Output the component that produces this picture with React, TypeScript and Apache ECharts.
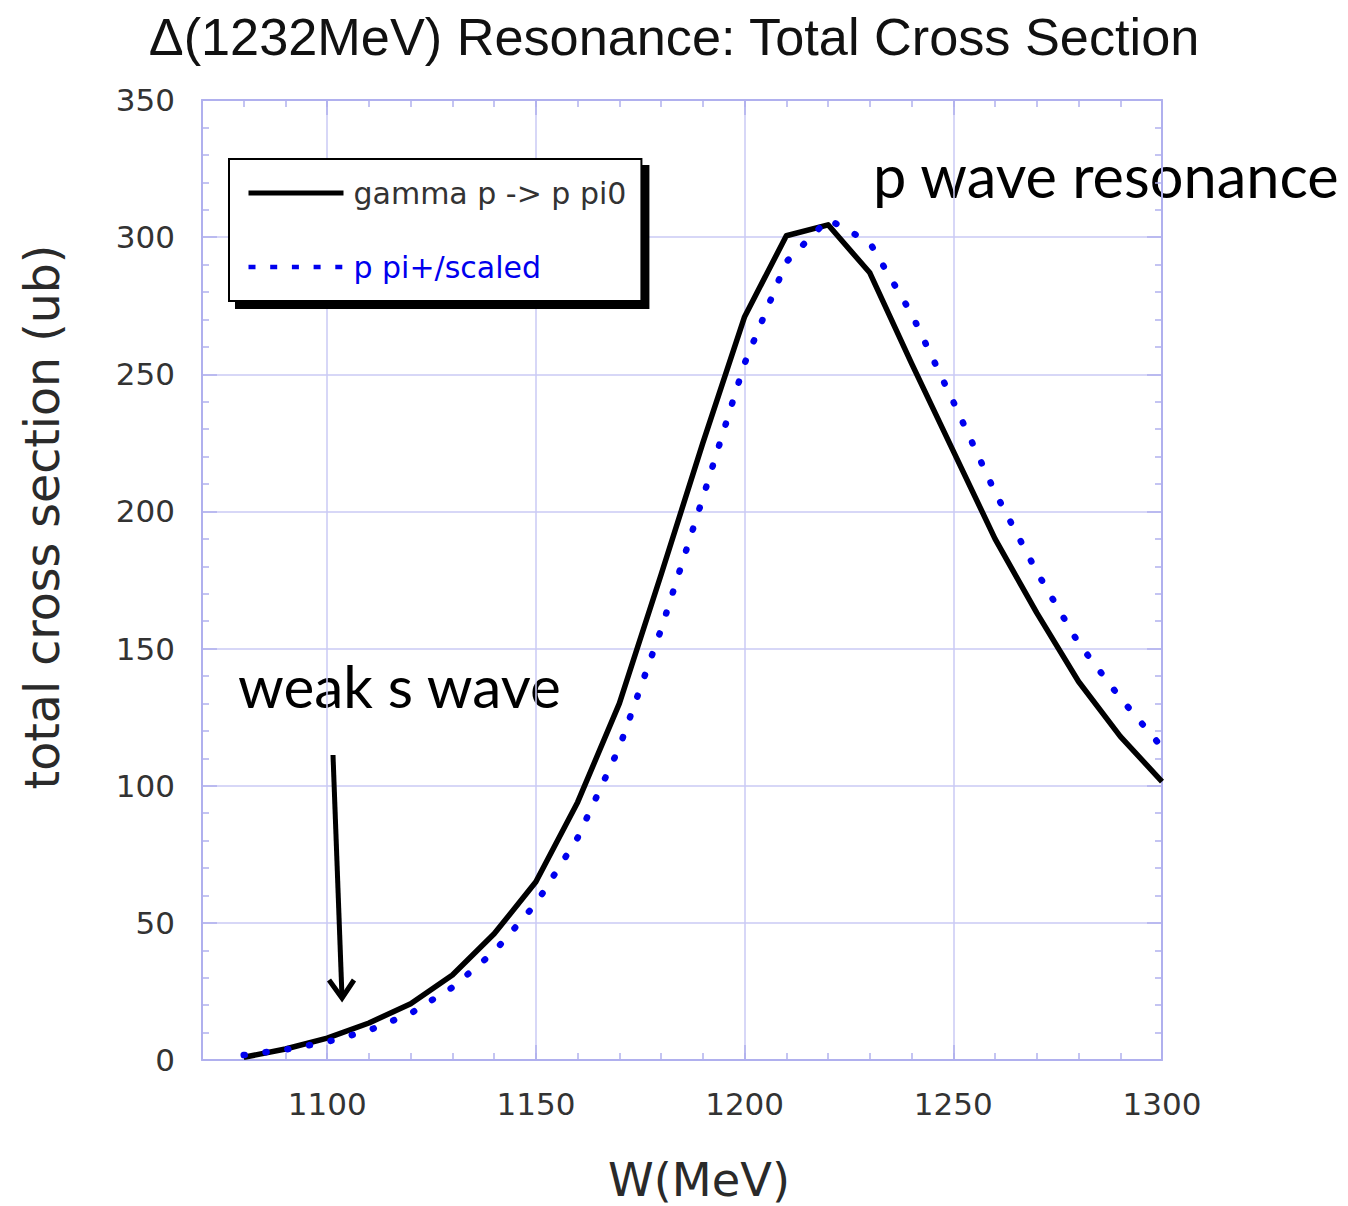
import React, { useEffect, useRef } from 'react';
import * as echarts from 'echarts';

// ---- data ----
const W_MEV = [1080, 1090, 1100, 1110, 1120, 1130, 1140, 1150, 1160, 1170, 1180, 1190, 1200, 1210, 1220, 1230, 1240, 1250, 1260, 1270, 1280, 1290, 1300];
const GAMMA_P_PI0 = [1, 4, 8, 13.5, 20.5, 31, 46, 65, 94, 130, 177, 225, 271, 300.5, 304.5, 287, 254, 222, 190, 163, 138, 118, 101.5];
const P_PIPLUS_SCALED = [1.8, 3.8, 6.6, 10.8, 17, 26.5, 39.5, 57, 81, 114, 157, 205, 254, 291, 306.5, 298, 272, 240, 207, 178, 152, 132, 114];
const X_LABEL_VALUES = [1100, 1150, 1200, 1250, 1300];
const X_MAJOR_TICKS = [1100, 1150, 1200, 1250];
const SERIES_NAMES = ['gamma p -> p pi0', 'p pi+/scaled'];
const TITLE = 'Δ(1232MeV) Resonance: Total Cross Section';
const X_NAME = 'W(MeV)';
const Y_NAME = 'total cross section (ub)';
const NOTE_P = 'p wave resonance';
const NOTE_S = 'weak s wave';

const AXIS_COLOR = '#b0b0ee';
const GRID_COLOR = '#cacaf5';
const LABEL_COLOR = '#333333';
const BLUE = '#0000ee';
const TICK_FONT = 'DejaVu Sans';

function measure(text: string, font: string): number {
  const c = document.createElement('canvas').getContext('2d');
  if (!c) return 100;
  c.font = font;
  return c.measureText(text).width;
}

function fitSize(text: string, family: string, target: number): number {
  const w = measure(text, `40px "${family}"`);
  return (40 * target) / w;
}

export default function App() {
  const ref = useRef<HTMLDivElement>(null);

  useEffect(() => {
    if (!ref.current) return;
    const chart = echarts.init(ref.current, undefined, { renderer: 'svg' });

    const titleSize = 52;
    const titleW = measure(TITLE, `${titleSize}px "Liberation Sans"`);
    const titleScale = 1052 / titleW;
    const yNameSize = fitSize(Y_NAME, 'DejaVu Sans', 545);
    const xNameSize = fitSize(X_NAME, 'DejaVu Sans', 182);
    const notePSize = fitSize(NOTE_P, 'Lato', 467);
    const noteSSize = fitSize(NOTE_S, 'Lato', 324);

    const splitColors = ['rgba(0,0,0,0)', 'rgba(0,0,0,0)', 'rgba(0,0,0,0)', GRID_COLOR, 'rgba(0,0,0,0)'];

    const baseX = {
      type: 'value' as const,
      min: 1070,
      max: 1300,
      gridIndex: 0,
    };
    const baseY = {
      type: 'value' as const,
      min: 0,
      max: 350,
      interval: 50,
      gridIndex: 0,
    };

    const option: any = {
      animation: false,
      backgroundColor: '#ffffff',
      grid: { left: 202, top: 100, width: 960, height: 960, containLabel: false, outerBoundsMode: 'none' },
      legend: {
        show: true,
        orient: 'vertical',
        left: 229,
        top: 159,
        padding: [16, 15, 16, 17],
        itemWidth: 95,
        itemHeight: 36,
        itemGap: 38,
        selectedMode: false,
        backgroundColor: '#ffffff',
        borderColor: '#000000',
        borderWidth: 2,
        borderRadius: 0,
        shadowColor: '#000000',
        shadowBlur: 0,
        shadowOffsetX: 7,
        shadowOffsetY: 7,
        itemStyle: { opacity: 0 },
        textStyle: { fontFamily: TICK_FONT, fontSize: 30, color: LABEL_COLOR, padding: [0, 0, 0, 5], lineHeight: 36 },
        data: [
          {
            name: SERIES_NAMES[0],
            textStyle: { color: LABEL_COLOR },
            itemStyle: { opacity: 0 },
            lineStyle: { width: 5, color: '#000000', type: 'solid' },
          },
          {
            name: SERIES_NAMES[1],
            textStyle: { color: BLUE },
            itemStyle: { opacity: 0 },
            lineStyle: { width: 4.5, color: BLUE, type: [7, 14.7], cap: 'butt' },
          },
        ],
      },
      xAxis: [
        {
          ...baseX,
          interval: 10,
          position: 'bottom',
          axisLine: { show: true, lineStyle: { color: AXIS_COLOR, width: 2 } },
          axisTick: { show: true, inside: true, length: 7, lineStyle: { color: AXIS_COLOR, width: 1.5 } },
          axisLabel: {
            show: true,
            margin: 28,
            fontFamily: TICK_FONT,
            fontSize: 31,
            color: LABEL_COLOR,
            showMinLabel: true,
            showMaxLabel: true,
            hideOverlap: false,
            formatter: (v: number) => (X_LABEL_VALUES.indexOf(Math.round(v)) >= 0 ? String(Math.round(v)) : ''),
          },
          splitLine: { show: true, lineStyle: { color: splitColors, width: 1.5 } },
        },
        {
          ...baseX,
          position: 'bottom',
          axisLine: { show: false },
          axisTick: { show: true, inside: true, length: 15, customValues: X_MAJOR_TICKS, lineStyle: { color: AXIS_COLOR, width: 1.5 } },
          axisLabel: { show: false },
          splitLine: { show: false },
        },
        {
          ...baseX,
          interval: 10,
          position: 'top',
          axisLine: { show: true, lineStyle: { color: AXIS_COLOR, width: 2 } },
          axisTick: { show: true, inside: true, length: 7, lineStyle: { color: AXIS_COLOR, width: 1.5 } },
          axisLabel: { show: false },
          splitLine: { show: false },
        },
        {
          ...baseX,
          position: 'top',
          axisLine: { show: false },
          axisTick: { show: true, inside: true, length: 15, customValues: X_MAJOR_TICKS, lineStyle: { color: AXIS_COLOR, width: 1.5 } },
          axisLabel: { show: false },
          splitLine: { show: false },
        },
      ],
      yAxis: [
        {
          ...baseY,
          position: 'left',
          axisLine: { show: true, lineStyle: { color: AXIS_COLOR, width: 2 } },
          axisTick: { show: true, inside: true, length: 15, lineStyle: { color: AXIS_COLOR, width: 1.5 } },
          minorTick: { show: true, splitNumber: 5, length: 7, lineStyle: { color: AXIS_COLOR, width: 1.5 } },
          axisLabel: { show: true, margin: 27, fontFamily: TICK_FONT, fontSize: 31, color: LABEL_COLOR },
          splitLine: { show: true, lineStyle: { color: GRID_COLOR, width: 1.5 } },
          minorSplitLine: { show: false },
        },
        {
          ...baseY,
          position: 'right',
          axisLine: { show: true, lineStyle: { color: AXIS_COLOR, width: 2 } },
          axisTick: { show: true, inside: true, length: 15, lineStyle: { color: AXIS_COLOR, width: 1.5 } },
          minorTick: { show: true, splitNumber: 5, length: 7, lineStyle: { color: AXIS_COLOR, width: 1.5 } },
          axisLabel: { show: false },
          splitLine: { show: false },
        },
      ],
      series: [
        {
          name: SERIES_NAMES[0],
          type: 'line',
          xAxisIndex: 0,
          yAxisIndex: 0,
          symbol: 'none',
          smooth: false,
          data: W_MEV.map((w, i) => [w, GAMMA_P_PI0[i]]),
          lineStyle: { color: '#000000', width: 5.5, join: 'round' },
          itemStyle: { color: '#000000' },
          z: 3,
        },
        {
          name: SERIES_NAMES[1],
          type: 'line',
          xAxisIndex: 0,
          yAxisIndex: 0,
          symbol: 'none',
          smooth: false,
          data: W_MEV.map((w, i) => [w, P_PIPLUS_SCALED[i]]),
          lineStyle: { color: BLUE, width: 6.5, type: [1, 21], cap: 'round' },
          itemStyle: { color: BLUE },
          z: 4,
        },
      ],
      graphic: [
        {
          type: 'text',
          x: 674,
          y: 37,
          scaleX: titleScale,
          style: {
            text: TITLE,
            fontFamily: 'Liberation Sans',
            fontSize: titleSize,
            fill: '#111111',
            align: 'center',
            verticalAlign: 'middle',
          },
        },
        {
          type: 'text',
          x: 42,
          y: 517,
          rotation: Math.PI / 2,
          style: {
            text: Y_NAME,
            fontFamily: 'DejaVu Sans',
            fontSize: yNameSize,
            fill: '#2a2a2a',
            align: 'center',
            verticalAlign: 'middle',
          },
        },
        {
          type: 'text',
          x: 699,
          y: 1180,
          style: {
            text: X_NAME,
            fontFamily: 'DejaVu Sans',
            fontSize: xNameSize,
            lineHeight: 40,
            fill: '#2a2a2a',
            align: 'center',
            verticalAlign: 'middle',
          },
        },
        {
          type: 'text',
          x: 873,
          y: 198 - 0.387 * notePSize,
          style: {
            text: NOTE_P,
            fontFamily: 'Lato',
            fontSize: notePSize,
            fill: '#000000',
            align: 'left',
            verticalAlign: 'middle',
          },
        },
        {
          type: 'text',
          x: 238,
          y: 708 - 0.387 * noteSSize,
          style: {
            text: NOTE_S,
            fontFamily: 'Lato',
            fontSize: noteSSize,
            fill: '#000000',
            align: 'left',
            verticalAlign: 'middle',
          },
        },
        {
          type: 'polyline',
          shape: { points: [[333, 755], [342, 997]] },
          style: { stroke: '#000000', lineWidth: 5, fill: null },
          z: 10,
        },
        {
          type: 'polyline',
          shape: { points: [[329, 980], [342, 998], [354, 980]] },
          style: { stroke: '#000000', lineWidth: 5, fill: null, lineJoin: 'miter' },
          z: 10,
        },
      ],
    };

    chart.setOption(option);
    return () => chart.dispose();
  }, []);

  return (
    <div
      ref={ref}
      style={{ position: 'absolute', left: 0, top: 0, width: 1348, height: 1206, background: '#ffffff' }}
    />
  );
}
